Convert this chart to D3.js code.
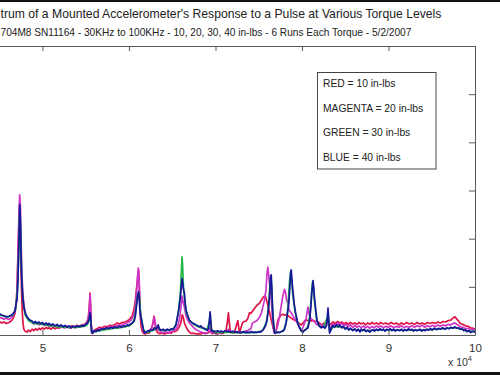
<!DOCTYPE html>
<html><head><meta charset="utf-8">
<script src="https://cdn.jsdelivr.net/npm/d3@7"></script>
<style>body{margin:0;background:#fff;overflow:hidden}svg{display:block}text{font-family:"Liberation Sans",Arial,sans-serif}</style>
</head><body><svg id="c" width="500" height="375"></svg>
<script>
// Title text as visible in the (left-cropped) reference
const titleLines = ["trum of a Mounted Accelerometer's Response to a Pulse at Various Torque Levels",
  "704M8 SN11164 - 30KHz to 100KHz - 10, 20, 30, 40 in-lbs - 6 Runs Each Torque - 5/2/2007"];
const legendLabels = ["RED = 10 in-lbs","MAGENTA = 20 in-lbs","GREEN = 30 in-lbs","BLUE = 40 in-lbs"];
const xTicks = [30,40,50,60,70,80,90,100];   // kHz (shown as x 10^4 Hz)
const xLabelled = [50,60,70,80,90,100];      // labels visible in the cropped view
const yTicks = [0,1,2,3,4,5,6];
const seriesColors = ["#de1446","#cc35c8","#22b648","#16169a"];

const redData = [[44.6,0.30],[44.97,0.28],[45.3,0.25],[45.55,0.27],[45.8,0.24],[46.13,0.26],[46.4,0.29],[46.6,0.34],[46.83,0.45],[47.0,0.70],[47.1,1.20],[47.2,1.90],[47.3,2.40],[47.37,2.55],[47.45,2.10],[47.52,1.40],[47.6,0.80],[47.68,0.45],[47.75,0.25],[47.85,0.12],[48.0,0.08],[48.2,0.06],[48.4,0.10],[48.6,0.07],[48.8,0.12],[49.0,0.09],[49.2,0.13],[49.4,0.10],[49.61,0.14],[49.8,0.11],[50.0,0.15],[50.2,0.12],[50.45,0.16],[50.6,0.13],[50.76,0.15],[51.0,0.12],[51.2,0.16],[51.45,0.13],[51.7,0.15],[51.92,0.14],[52.2,0.17],[52.5,0.15],[52.8,0.18],[53.1,0.16],[53.4,0.19],[53.7,0.17],[54.0,0.20],[54.3,0.18],[54.6,0.21],[54.9,0.22],[55.1,0.26],[55.3,0.35],[55.42,0.60],[55.51,0.87],[55.56,0.65],[55.63,0.25],[55.7,0.05],[55.8,0.03],[56.0,0.10],[56.3,0.13],[56.6,0.16],[56.9,0.15],[57.2,0.18],[57.5,0.17],[57.8,0.20],[58.1,0.19],[58.4,0.22],[58.64,0.25],[58.9,0.23],[59.2,0.26],[59.5,0.27],[59.8,0.29],[60.1,0.33],[60.38,0.40],[60.6,0.55],[60.75,0.73],[60.84,0.90],[60.96,1.10],[61.05,1.30],[61.11,1.35],[61.18,1.10],[61.25,0.70],[61.32,0.35],[61.42,0.17],[61.55,0.07],[61.7,0.03],[61.9,0.02],[62.1,0.05],[62.35,0.04],[62.55,0.10],[62.75,0.22],[62.9,0.39],[62.98,0.30],[63.1,0.12],[63.3,0.05],[63.5,0.03],[63.8,0.04],[64.1,0.02],[64.4,0.04],[64.67,0.05],[64.9,0.04],[65.1,0.08],[65.3,0.07],[65.6,0.10],[65.91,0.20],[66.05,0.30],[66.17,0.42],[66.3,0.35],[66.41,0.25],[66.6,0.17],[66.8,0.10],[67.0,0.06],[67.2,0.03],[67.4,0.04],[67.76,0.02],[68.0,0.03],[68.3,0.02],[68.6,0.04],[68.9,0.03],[69.2,0.05],[69.38,0.08],[69.6,0.03],[69.9,0.04],[70.2,0.02],[70.5,0.04],[70.8,0.03],[71.0,0.05],[71.23,0.10],[71.4,0.30],[71.5,0.46],[71.6,0.25],[71.73,0.06],[72.0,0.04],[72.2,0.06],[72.4,0.18],[72.58,0.30],[72.7,0.15],[72.78,0.05],[72.95,0.15],[73.12,0.25],[73.3,0.28],[73.55,0.29],[73.75,0.35],[73.93,0.46],[74.1,0.45],[74.3,0.50],[74.51,0.55],[74.8,0.62],[75.09,0.66],[75.3,0.72],[75.5,0.78],[75.67,0.81],[75.8,0.79],[75.95,0.70],[76.1,0.58],[76.25,0.48],[76.4,0.35],[76.59,0.21],[76.75,0.08],[76.9,0.03],[77.02,0.10],[77.21,0.31],[77.4,0.37],[77.6,0.42],[77.8,0.43],[78.0,0.41],[78.17,0.42],[78.4,0.40],[78.6,0.37],[78.76,0.35],[79.0,0.32],[79.34,0.29],[79.6,0.25],[79.92,0.21],[80.1,0.24],[80.3,0.29],[80.5,0.31],[80.7,0.30],[80.88,0.31],[81.1,0.29],[81.3,0.30],[81.5,0.28],[81.73,0.29],[82.0,0.25],[82.24,0.21],[82.5,0.24],[82.8,0.27],[83.0,0.30],[83.15,0.20],[83.3,0.22],[83.6,0.27],[83.85,0.24],[84.1,0.28],[84.36,0.25],[84.6,0.27],[84.85,0.23],[85.1,0.26],[85.35,0.22],[85.6,0.26],[85.87,0.23],[86.1,0.25],[86.35,0.22],[86.6,0.26],[86.85,0.23],[87.1,0.25],[87.35,0.21],[87.6,0.25],[87.84,0.22],[88.1,0.26],[88.35,0.23],[88.6,0.25],[88.85,0.22],[89.1,0.26],[89.4,0.23],[89.7,0.25],[90.0,0.22],[90.3,0.26],[90.6,0.23],[90.9,0.25],[91.2,0.21],[91.5,0.25],[91.8,0.22],[92.1,0.26],[92.4,0.23],[92.7,0.25],[93.0,0.22],[93.3,0.26],[93.6,0.23],[93.9,0.25],[94.2,0.22],[94.5,0.26],[94.8,0.24],[95.1,0.26],[95.4,0.24],[95.7,0.27],[96.0,0.25],[96.3,0.28],[96.6,0.27],[96.9,0.30],[97.2,0.31],[97.45,0.35],[97.68,0.38],[97.9,0.33],[98.1,0.29],[98.3,0.24],[98.6,0.22],[98.9,0.19],[99.2,0.18],[99.5,0.15],[99.77,0.14],[100,0.12]];

const magentaData = [[44.6,0.40],[44.97,0.37],[45.3,0.35],[45.55,0.33],[45.8,0.35],[46.13,0.32],[46.4,0.36],[46.6,0.40],[46.83,0.48],[47.0,0.75],[47.1,1.10],[47.2,1.80],[47.3,2.60],[47.37,2.91],[47.45,2.70],[47.52,2.10],[47.6,1.40],[47.7,1.00],[47.8,0.75],[47.9,0.58],[48.0,0.45],[48.2,0.36],[48.4,0.31],[48.6,0.28],[48.8,0.26],[49.0,0.23],[49.3,0.25],[49.6,0.21],[49.9,0.24],[50.2,0.20],[50.5,0.22],[50.8,0.18],[51.1,0.21],[51.4,0.17],[51.7,0.20],[52.0,0.16],[52.3,0.19],[52.6,0.15],[52.9,0.18],[53.2,0.14],[53.5,0.17],[53.8,0.15],[54.1,0.18],[54.4,0.16],[54.7,0.20],[55.0,0.23],[55.2,0.28],[55.35,0.40],[55.45,0.65],[55.51,0.85],[55.56,0.60],[55.63,0.25],[55.7,0.06],[55.75,0.04],[56.0,0.08],[56.3,0.10],[56.6,0.12],[56.9,0.14],[57.2,0.13],[57.5,0.16],[57.8,0.15],[58.1,0.18],[58.4,0.17],[58.7,0.20],[59.0,0.19],[59.3,0.22],[59.6,0.24],[59.9,0.26],[60.2,0.30],[60.4,0.36],[60.6,0.45],[60.75,0.62],[60.9,0.95],[61.0,1.20],[61.08,1.39],[61.15,1.25],[61.22,0.90],[61.3,0.55],[61.4,0.35],[61.55,0.18],[61.7,0.07],[61.85,0.04],[62.1,0.07],[62.4,0.10],[62.65,0.16],[62.85,0.30],[62.93,0.37],[63.0,0.28],[63.15,0.15],[63.4,0.10],[63.7,0.06],[64.0,0.05],[64.3,0.06],[64.6,0.05],[64.9,0.07],[65.2,0.09],[65.5,0.14],[65.7,0.22],[65.9,0.40],[66.05,0.65],[66.14,0.81],[66.25,0.70],[66.4,0.58],[66.6,0.40],[66.8,0.31],[67.0,0.25],[67.3,0.19],[67.6,0.13],[67.9,0.10],[68.2,0.07],[68.5,0.05],[68.8,0.04],[69.1,0.05],[69.3,0.10],[69.38,0.15],[69.5,0.06],[69.8,0.04],[70.1,0.05],[70.4,0.04],[70.7,0.05],[71.0,0.06],[71.3,0.08],[71.5,0.12],[71.7,0.07],[72.0,0.06],[72.3,0.05],[72.6,0.07],[72.9,0.05],[73.2,0.06],[73.5,0.08],[73.8,0.10],[74.1,0.13],[74.28,0.25],[74.5,0.27],[74.8,0.30],[75.09,0.37],[75.3,0.45],[75.5,0.60],[75.67,0.73],[75.85,0.95],[75.95,1.25],[76.05,1.41],[76.12,1.30],[76.2,1.15],[76.3,1.00],[76.4,0.85],[76.5,0.60],[76.6,0.30],[76.75,0.10],[76.9,0.06],[77.02,0.10],[77.2,0.20],[77.4,0.37],[77.6,0.60],[77.79,0.81],[77.98,0.95],[78.1,0.88],[78.2,0.75],[78.36,0.66],[78.5,0.52],[78.76,0.46],[79.0,0.38],[79.34,0.29],[79.6,0.20],[79.92,0.10],[80.1,0.15],[80.3,0.25],[80.5,0.37],[80.69,0.58],[80.8,0.45],[80.95,0.37],[81.1,0.33],[81.3,0.30],[81.47,0.27],[81.7,0.22],[82.0,0.20],[82.24,0.21],[82.5,0.19],[82.8,0.22],[82.95,0.30],[83.01,0.38],[83.1,0.20],[83.2,0.10],[83.4,0.18],[83.6,0.23],[83.85,0.20],[84.1,0.25],[84.36,0.21],[84.6,0.24],[84.85,0.19],[85.1,0.22],[85.35,0.17],[85.6,0.21],[85.87,0.16],[86.1,0.20],[86.35,0.16],[86.6,0.19],[86.85,0.15],[87.1,0.19],[87.35,0.15],[87.6,0.18],[87.84,0.14],[88.1,0.18],[88.35,0.15],[88.6,0.19],[88.85,0.16],[89.1,0.19],[89.4,0.15],[89.7,0.18],[90.0,0.16],[90.3,0.19],[90.6,0.15],[90.9,0.18],[91.2,0.16],[91.5,0.19],[91.8,0.15],[92.1,0.18],[92.4,0.16],[92.7,0.19],[93.0,0.16],[93.3,0.19],[93.6,0.17],[93.9,0.20],[94.2,0.16],[94.5,0.19],[94.8,0.17],[95.1,0.20],[95.4,0.17],[95.7,0.21],[96.0,0.18],[96.3,0.21],[96.6,0.19],[96.9,0.22],[97.2,0.21],[97.45,0.24],[97.68,0.25],[97.9,0.22],[98.1,0.20],[98.3,0.17],[98.6,0.16],[98.9,0.13],[99.2,0.14],[99.5,0.11],[99.77,0.12],[100,0.10]];

const greenData = [[44.6,0.44],[45.3,0.40],[46.0,0.37],[46.6,0.42],[46.9,0.55],[47.1,0.90],[47.25,1.60],[47.35,2.45],[47.42,2.50],[47.5,1.90],[47.6,1.20],[47.75,0.70],[48.0,0.42],[48.4,0.30],[49.0,0.24],[50.0,0.22],[51.0,0.19],[52.0,0.17],[53.0,0.16],[54.0,0.16],[55.0,0.19],[55.3,0.25],[55.45,0.36],[55.51,0.40],[55.6,0.25],[55.7,0.05],[56.0,0.07],[57.0,0.10],[58.0,0.13],[59.0,0.15],[60.0,0.19],[60.4,0.24],[60.7,0.40],[60.9,0.70],[61.05,0.85],[61.15,0.88],[61.25,0.70],[61.35,0.45],[61.5,0.28],[61.7,0.10],[62.0,0.05],[62.5,0.08],[63.0,0.11],[63.35,0.18],[63.5,0.11],[64.0,0.09],[65.0,0.11],[65.4,0.20],[65.7,0.45],[65.95,0.90],[66.08,1.40],[66.14,1.62],[66.2,1.45],[66.3,1.00],[66.45,0.70],[66.6,0.48],[67.0,0.30],[67.5,0.22],[68.0,0.17],[68.5,0.14],[69.0,0.10],[69.3,0.28],[69.38,0.44],[69.5,0.12],[70.0,0.05],[71.0,0.06],[72.0,0.05],[73.0,0.05],[74.0,0.05],[75.0,0.06],[75.5,0.10],[75.9,0.28],[76.15,0.60],[76.3,1.05],[76.4,1.18],[76.5,1.00],[76.6,0.55],[76.75,0.15],[76.9,0.05],[77.5,0.06],[77.9,0.10],[78.2,0.28],[78.4,0.60],[78.55,1.10],[78.68,1.32],[78.75,1.25],[78.9,0.90],[79.1,0.60],[79.3,0.40],[79.6,0.20],[80.0,0.08],[80.4,0.11],[80.7,0.18],[80.9,0.40],[81.1,0.85],[81.22,1.10],[81.3,1.05],[81.45,0.70],[81.7,0.32],[82.0,0.18],[82.5,0.16],[82.95,0.38],[83.0,0.50],[83.1,0.25],[83.2,0.06],[83.6,0.17],[84.5,0.17],[85.5,0.12],[86.5,0.10],[87.5,0.09],[88.5,0.10],[89.5,0.10],[90.5,0.10],[91.5,0.10],[92.5,0.10],[93.5,0.10],[94.5,0.11],[95.5,0.12],[96.5,0.13],[97.5,0.15],[98.0,0.14],[99.0,0.09],[100,0.07]];

const blueData = [[44.6,0.48],[44.97,0.46],[45.2,0.42],[45.55,0.40],[45.8,0.38],[46.13,0.39],[46.4,0.41],[46.59,0.44],[46.83,0.50],[47.0,0.70],[47.06,0.73],[47.17,1.14],[47.29,1.97],[47.37,2.70],[47.42,2.55],[47.46,2.28],[47.52,1.80],[47.58,1.31],[47.66,0.95],[47.75,0.73],[47.86,0.58],[47.98,0.48],[48.15,0.40],[48.33,0.35],[48.55,0.31],[48.8,0.29],[49.0,0.25],[49.2,0.28],[49.4,0.24],[49.61,0.27],[49.8,0.23],[50.0,0.26],[50.2,0.22],[50.45,0.25],[50.6,0.21],[50.76,0.24],[51.0,0.20],[51.2,0.23],[51.45,0.19],[51.7,0.22],[51.92,0.18],[52.15,0.21],[52.4,0.17],[52.6,0.20],[52.85,0.16],[53.08,0.19],[53.3,0.15],[53.55,0.18],[53.8,0.16],[54.0,0.19],[54.24,0.17],[54.5,0.20],[54.75,0.18],[55.0,0.22],[55.17,0.24],[55.3,0.28],[55.4,0.34],[55.51,0.46],[55.58,0.36],[55.63,0.20],[55.7,0.06],[55.75,0.04],[55.85,0.05],[55.98,0.09],[56.2,0.07],[56.4,0.11],[56.6,0.09],[56.85,0.13],[57.14,0.12],[57.4,0.15],[57.65,0.13],[57.9,0.16],[58.15,0.14],[58.4,0.17],[58.64,0.15],[58.9,0.18],[59.1,0.16],[59.35,0.19],[59.6,0.18],[59.8,0.21],[60.0,0.20],[60.2,0.23],[60.38,0.25],[60.61,0.29],[60.75,0.40],[60.84,0.55],[60.96,0.75],[61.05,0.85],[61.11,0.90],[61.17,0.80],[61.25,0.55],[61.32,0.42],[61.42,0.35],[61.55,0.22],[61.69,0.10],[61.8,0.05],[62.0,0.06],[62.2,0.09],[62.35,0.08],[62.55,0.11],[62.75,0.10],[62.93,0.15],[63.1,0.12],[63.25,0.16],[63.39,0.21],[63.5,0.13],[63.74,0.10],[63.95,0.12],[64.2,0.09],[64.45,0.12],[64.67,0.10],[64.9,0.13],[65.1,0.12],[65.25,0.15],[65.45,0.22],[65.6,0.37],[65.75,0.52],[65.91,0.73],[66.05,1.00],[66.14,1.17],[66.22,1.08],[66.3,0.95],[66.41,0.87],[66.5,0.66],[66.6,0.52],[66.8,0.40],[66.98,0.31],[67.2,0.27],[67.4,0.24],[67.6,0.23],[67.76,0.21],[67.95,0.19],[68.15,0.17],[68.3,0.19],[68.49,0.15],[68.7,0.14],[68.9,0.12],[69.07,0.10],[69.2,0.14],[69.3,0.30],[69.38,0.48],[69.45,0.30],[69.55,0.10],[69.65,0.07],[69.85,0.08],[70.05,0.06],[70.25,0.09],[70.46,0.07],[70.7,0.08],[70.9,0.06],[71.1,0.09],[71.3,0.07],[71.5,0.08],[71.73,0.06],[71.95,0.08],[72.2,0.06],[72.4,0.07],[72.58,0.05],[72.78,0.06],[73.0,0.05],[73.2,0.07],[73.45,0.05],[73.7,0.06],[73.93,0.05],[74.15,0.07],[74.4,0.05],[74.6,0.06],[74.8,0.05],[75.0,0.07],[75.2,0.06],[75.4,0.09],[75.6,0.13],[75.8,0.20],[75.95,0.30],[76.1,0.50],[76.25,0.80],[76.37,1.20],[76.44,1.25],[76.5,1.05],[76.59,0.60],[76.7,0.25],[76.83,0.04],[77.0,0.05],[77.2,0.06],[77.4,0.05],[77.6,0.07],[77.79,0.08],[77.98,0.12],[78.17,0.25],[78.36,0.50],[78.48,0.66],[78.6,1.00],[78.7,1.30],[78.76,1.35],[78.82,1.20],[78.94,0.93],[79.1,0.65],[79.26,0.46],[79.5,0.25],[79.72,0.15],[79.92,0.08],[80.11,0.06],[80.3,0.10],[80.5,0.12],[80.69,0.15],[80.88,0.30],[81.0,0.52],[81.15,0.90],[81.27,1.13],[81.35,1.00],[81.47,0.73],[81.6,0.50],[81.73,0.31],[81.9,0.22],[82.05,0.18],[82.24,0.15],[82.45,0.18],[82.65,0.14],[82.85,0.20],[82.95,0.40],[83.01,0.56],[83.08,0.35],[83.2,0.04],[83.35,0.12],[83.55,0.20],[83.75,0.16],[84.0,0.22],[84.2,0.17],[84.36,0.21],[84.6,0.15],[84.8,0.18],[85.0,0.12],[85.2,0.16],[85.4,0.10],[85.6,0.14],[85.87,0.09],[86.1,0.13],[86.3,0.08],[86.5,0.12],[86.7,0.06],[86.85,0.12],[87.0,0.09],[87.2,0.12],[87.4,0.07],[87.6,0.10],[87.84,0.06],[88.0,0.09],[88.2,0.11],[88.4,0.08],[88.6,0.12],[88.8,0.09],[89.0,0.13],[89.2,0.10],[89.4,0.12],[89.6,0.08],[89.81,0.12],[90.0,0.10],[90.2,0.13],[90.4,0.09],[90.6,0.12],[90.8,0.08],[91.0,0.11],[91.31,0.09],[91.5,0.12],[91.7,0.08],[91.9,0.11],[92.1,0.09],[92.3,0.13],[92.5,0.10],[92.7,0.12],[92.9,0.08],[93.1,0.11],[93.3,0.09],[93.63,0.12],[93.85,0.08],[94.05,0.11],[94.25,0.09],[94.45,0.12],[94.65,0.10],[94.85,0.13],[95.05,0.10],[95.3,0.14],[95.6,0.11],[95.8,0.14],[96.0,0.12],[96.25,0.15],[96.52,0.12],[96.75,0.15],[97.0,0.13],[97.2,0.16],[97.45,0.14],[97.68,0.17],[97.9,0.14],[98.1,0.15],[98.26,0.12],[98.5,0.13],[98.7,0.09],[98.9,0.11],[99.07,0.07],[99.3,0.09],[99.5,0.05],[99.77,0.08],[100,0.06]];

const seriesList = [redData, magentaData, greenData, blueData];

const svg = d3.select("#c");
const X0 = -130.6, X1 = 475, Y0 = 335, Y1 = 46;
const x = d3.scaleLinear().domain([30,100]).range([X0,X1]);
const y = d3.scaleLinear().domain([0,6]).range([Y0,Y1]);

// dark border bars of the photo
svg.append("rect").attr("x",0).attr("y",0).attr("width",500).attr("height",2).attr("fill","#111");
svg.append("rect").attr("x",0).attr("y",372).attr("width",500).attr("height",3).attr("fill","#111");

svg.append("defs").append("clipPath").attr("id","pc").append("rect")
  .attr("x",X0).attr("y",Y1).attr("width",X1-X0).attr("height",Y0-Y1);

const line = d3.line().x(d=>x(d[0])).y(d=>y(d[1]));
const g = svg.append("g").attr("clip-path","url(#pc)");
seriesList.forEach((s,i)=>{
  g.append("path").datum(s).attr("d",line).attr("fill","none")
   .attr("stroke",seriesColors[i]).attr("stroke-width",1.7).attr("stroke-linejoin","round");
});

const axCol = "#5a5a5a";
function style(sel){ sel.select(".domain").attr("stroke",axCol); sel.selectAll(".tick line").attr("stroke",axCol);
  sel.selectAll("text").attr("fill","#333").style("font-family","'Liberation Sans',Arial,sans-serif").style("font-size","11.5px"); }
svg.append("g").attr("transform",`translate(0,${Y0})`)
  .call(d3.axisBottom(x).tickValues(xTicks).tickSize(-5).tickSizeOuter(0).tickPadding(9)
    .tickFormat(d=>xLabelled.includes(d)?d/10:"")).call(style);
svg.append("g").attr("transform",`translate(0,${Y1})`)
  .call(d3.axisTop(x).tickValues(xTicks).tickSize(-5).tickSizeOuter(0).tickFormat("")).call(style);
svg.append("g").attr("transform",`translate(${X1},0)`)
  .call(d3.axisRight(y).tickValues(yTicks).tickSize(-6).tickSizeOuter(0).tickFormat("")).call(style);
svg.append("g").attr("transform",`translate(${X0},0)`)
  .call(d3.axisLeft(y).tickValues(yTicks).tickSize(-6).tickSizeOuter(0).tickFormat("")).call(style);

// exponent label
const ex = svg.append("text").attr("x",448).attr("y",366).attr("font-size","10.5px").attr("fill","#333");
ex.append("tspan").text("x 10");
ex.append("tspan").text("4").attr("dy",-5).attr("font-size","7.5px");

// titles (left-cropped as in the reference)
svg.append("text").attr("x",0.5).attr("y",18).attr("font-size","12.2px").attr("fill","#222").text(titleLines[0]);
svg.append("text").attr("x",0.5).attr("y",36).attr("font-size","10.15px").attr("fill","#222").text(titleLines[1]);

// legend box
svg.append("rect").attr("x",317.5).attr("y",72.5).attr("width",118.5).attr("height",96.5)
  .attr("fill","#fff").attr("stroke","#444").attr("stroke-width",1);
legendLabels.forEach((t,i)=>{
  svg.append("text").attr("x",323).attr("y",87+i*24.5).attr("font-size","10.3px").attr("fill","#222").text(t);
});
</script></body></html>
